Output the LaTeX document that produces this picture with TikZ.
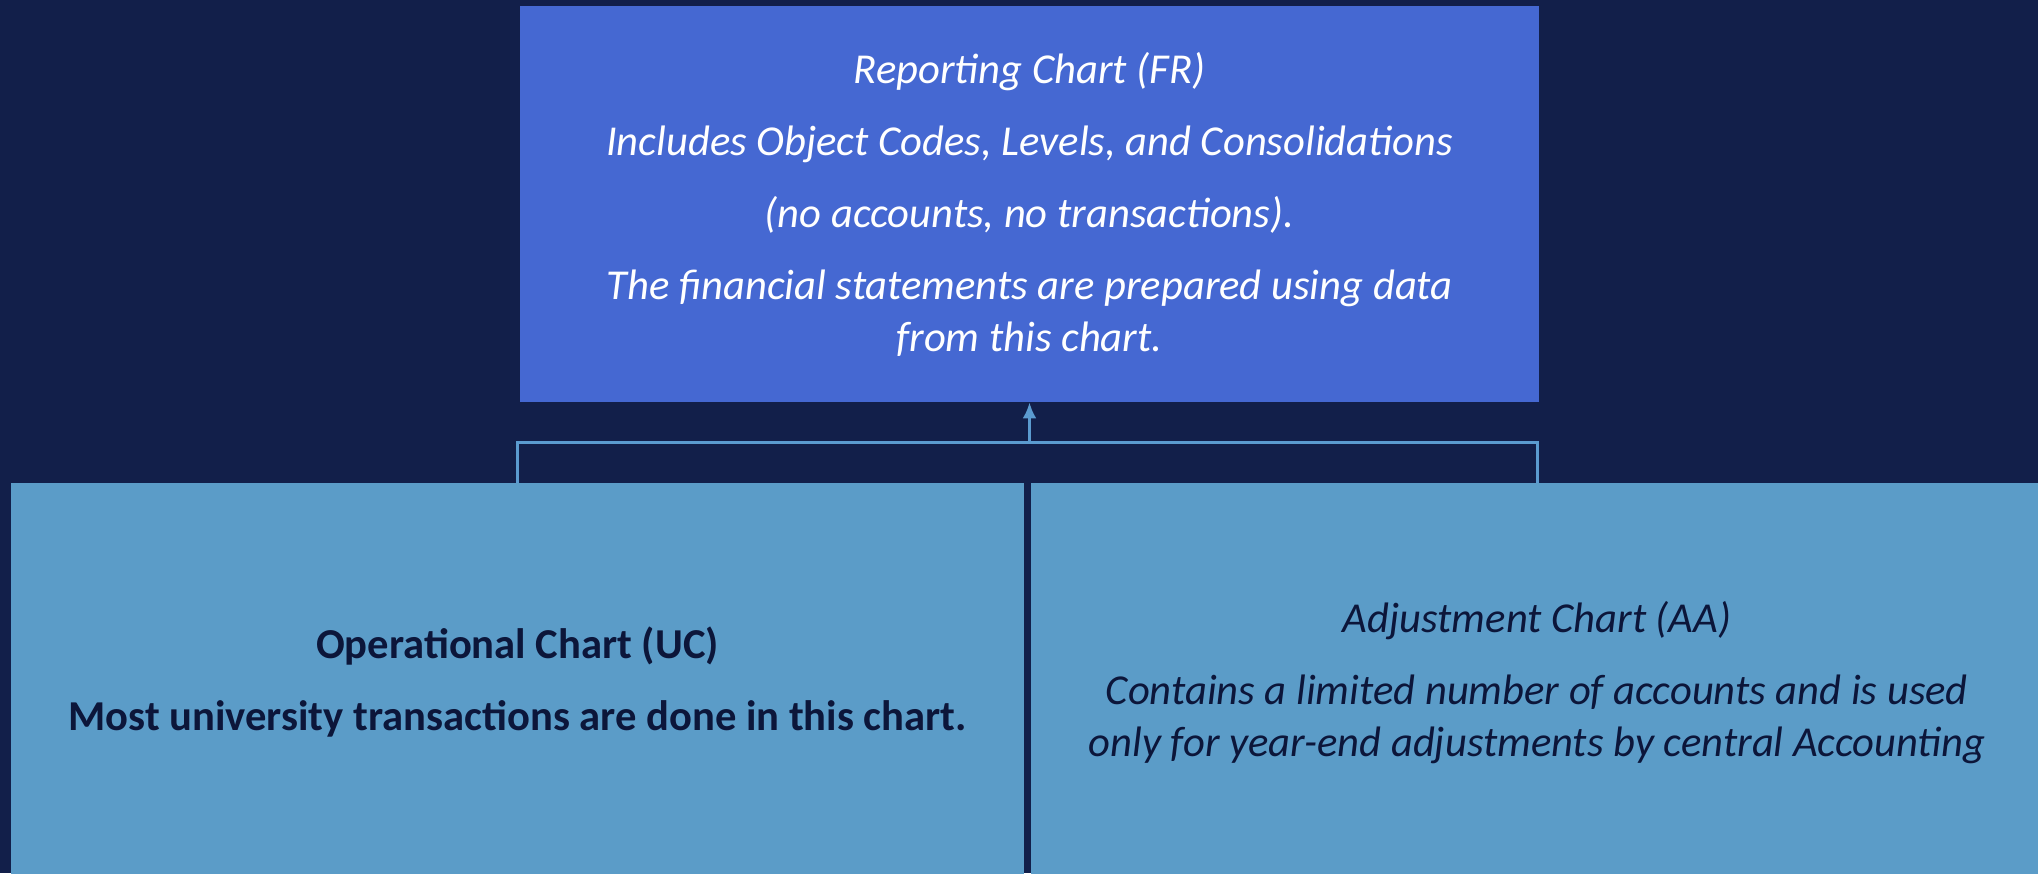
\documentclass[tikz,border=0pt]{standalone}
\usepackage{fontspec}
\setmainfont{Carlito}
\usepackage{tikz}
\usetikzlibrary{arrows.meta}
\usetikzlibrary{positioning}
\definecolor{navy}{HTML}{121F4A}
\definecolor{royal}{HTML}{4568D2}
\definecolor{steel}{HTML}{5B9CC8}
\definecolor{ink}{HTML}{0C163A}
\definecolor{wire}{HTML}{5B9BD0}
\tikzset{chart/.style = {rectangle, inner sep = 0, align = center,
                         font = \fontsize{21.3bp}{26bp}\selectfont}}
\tikzset{topchart/.style = {chart, fill = royal, text = white,
                            minimum width = 509.5bp, minimum height = 198bp}}
\tikzset{subchart/.style = {chart, fill = steel, text = ink,
                            minimum width = 506.5bp, minimum height = 199.5bp}}
\tikzset{link/.style = {draw = wire, line width = 1.5bp}}
\tikzset{uplink/.style = {link, -{Latex[length=8bp, width=7bp]}}}

\begin{document}
\begin{tikzpicture}[x = 0.5bp, y = -0.5bp]
    \fill [navy] (0, 0) rectangle (2038, 873);
    \clip (0, 0) rectangle (2038, 873);

    \node [topchart] (fr) at (1029.5, 204) {\itshape Reporting Chart (FR)\\[10bp]
      \itshape Includes Object Codes, Levels, and Consolidations\\[10bp]
      \itshape (no accounts, no transactions).\\[10bp]
      \itshape The financial statements are prepared using data\\
      \itshape from this chart.};
    \node [subchart] (uc) at (517.5, 682.5) {\bfseries Operational Chart (UC)\\[10bp]
      \bfseries Most university transactions are done in this chart.};
    \node [subchart] (aa) at (1537, 682.5) {\itshape Adjustment Chart (AA)\\[10bp]
      \itshape Contains a limited number of accounts and is used\\
      \itshape only for year-end adjustments by central Accounting};

    \coordinate (bus) at (1029.5, 442);
    \draw [link] (uc.north) |- (bus) -| (aa.north);
    \draw [uplink] (bus) -- (fr.south);
\end{tikzpicture}
\end{document}
